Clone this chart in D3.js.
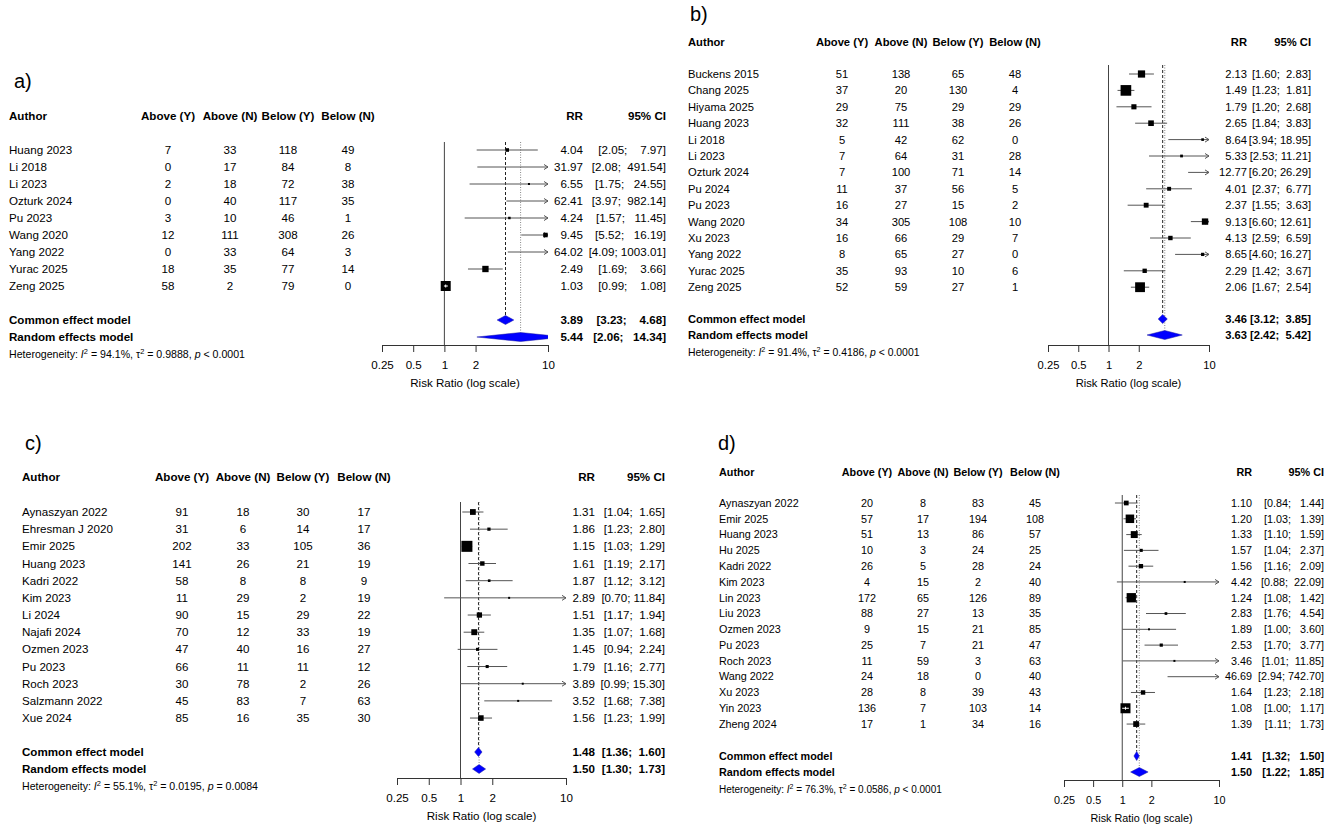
<!DOCTYPE html>
<html>
<head>
<meta charset="utf-8">
<script src="https://cdn.jsdelivr.net/npm/d3@7"></script>
<style>
body { margin: 0; background: #fff; }
svg text { font-family: "Liberation Sans", Arial, Helvetica, sans-serif; fill: #000; }
</style>
</head>
<body>
<div id="chart"></div>
<script>
const ticks = [0.25, 0.5, 1, 2, 10];
const colHeaders = ["Above (Y)", "Above (N)", "Below (Y)", "Below (N)"];

// a)
const aAuthors = ["Huang 2023", "Li 2018", "Li 2023", "Ozturk 2024", "Pu 2023", "Wang 2020", "Yang 2022", "Yurac 2025", "Zeng 2025"];
const aAboveY = [7, 0, 2, 0, 3, 12, 0, 18, 58];
const aAboveN = [33, 17, 18, 40, 10, 111, 33, 35, 2];
const aBelowY = [118, 84, 72, 117, 46, 308, 64, 77, 79];
const aBelowN = [49, 8, 38, 35, 1, 26, 3, 14, 0];
const aRR = [4.04, 31.97, 6.55, 62.41, 4.24, 9.45, 64.02, 2.49, 1.03];
const aLower = [2.05, 2.08, 1.75, 3.97, 1.57, 5.52, 4.09, 1.69, 0.99];
const aUpper = [7.97, 491.54, 24.55, 982.14, 11.45, 16.19, 1003.01, 3.66, 1.08];
const aCommon = [3.89, 3.23, 4.68];
const aRandom = [5.44, 2.06, 14.34];
const aHet = ["94.1%", "0.9888", "< 0.0001"];

// b)
const bAuthors = ["Buckens 2015", "Chang 2025", "Hiyama 2025", "Huang 2023", "Li 2018", "Li 2023", "Ozturk 2024", "Pu 2024", "Pu 2023", "Wang 2020", "Xu 2023", "Yang 2022", "Yurac 2025", "Zeng 2025"];
const bAboveY = [51, 37, 29, 32, 5, 7, 7, 11, 16, 34, 16, 8, 35, 52];
const bAboveN = [138, 20, 75, 111, 42, 64, 100, 37, 27, 305, 66, 65, 93, 59];
const bBelowY = [65, 130, 29, 38, 62, 31, 71, 56, 15, 108, 29, 27, 10, 27];
const bBelowN = [48, 4, 29, 26, 0, 28, 14, 5, 2, 10, 7, 0, 6, 1];
const bRR = [2.13, 1.49, 1.79, 2.65, 8.64, 5.33, 12.77, 4.01, 2.37, 9.13, 4.13, 8.65, 2.29, 2.06];
const bLower = [1.60, 1.23, 1.20, 1.84, 3.94, 2.53, 6.20, 2.37, 1.55, 6.60, 2.59, 4.60, 1.42, 1.67];
const bUpper = [2.83, 1.81, 2.68, 3.83, 18.95, 11.21, 26.29, 6.77, 3.63, 12.61, 6.59, 16.27, 3.67, 2.54];
const bCommon = [3.46, 3.12, 3.85];
const bRandom = [3.63, 2.42, 5.42];
const bHet = ["91.4%", "0.4186", "< 0.0001"];

// c)
const cAuthors = ["Aynaszyan 2022", "Ehresman J 2020", "Emir 2025", "Huang 2023", "Kadri 2022", "Kim 2023", "Li 2024", "Najafi 2024", "Ozmen 2023", "Pu 2023", "Roch 2023", "Salzmann 2022", "Xue 2024"];
const cAboveY = [91, 31, 202, 141, 58, 11, 90, 70, 47, 66, 30, 45, 85];
const cAboveN = [18, 6, 33, 26, 8, 29, 15, 12, 40, 11, 78, 83, 16];
const cBelowY = [30, 14, 105, 21, 8, 2, 29, 33, 16, 11, 2, 7, 35];
const cBelowN = [17, 17, 36, 19, 9, 19, 22, 19, 27, 12, 26, 63, 30];
const cRR = [1.31, 1.86, 1.15, 1.61, 1.87, 2.89, 1.51, 1.35, 1.45, 1.79, 3.89, 3.52, 1.56];
const cLower = [1.04, 1.23, 1.03, 1.19, 1.12, 0.70, 1.17, 1.07, 0.94, 1.16, 0.99, 1.68, 1.23];
const cUpper = [1.65, 2.80, 1.29, 2.17, 3.12, 11.84, 1.94, 1.68, 2.24, 2.77, 15.30, 7.38, 1.99];
const cCommon = [1.48, 1.36, 1.60];
const cRandom = [1.50, 1.30, 1.73];
const cHet = ["55.1%", "0.0195", "= 0.0084"];

// d)
const dAuthors = ["Aynaszyan 2022", "Emir 2025", "Huang 2023", "Hu 2025", "Kadri 2022", "Kim 2023", "Lin 2023", "Liu 2023", "Ozmen 2023", "Pu 2023", "Roch 2023", "Wang 2022", "Xu 2023", "Yin 2023", "Zheng 2024"];
const dAboveY = [20, 57, 51, 10, 26, 4, 172, 88, 9, 25, 11, 24, 28, 136, 17];
const dAboveN = [8, 17, 13, 3, 5, 15, 65, 27, 15, 7, 59, 18, 8, 7, 1];
const dBelowY = [83, 194, 86, 24, 28, 2, 126, 13, 21, 21, 3, 0, 39, 103, 34];
const dBelowN = [45, 108, 57, 25, 24, 40, 89, 35, 85, 47, 63, 40, 43, 14, 16];
const dRR = [1.10, 1.20, 1.33, 1.57, 1.56, 4.42, 1.24, 2.83, 1.89, 2.53, 3.46, 46.69, 1.64, 1.08, 1.39];
const dLower = [0.84, 1.03, 1.10, 1.04, 1.16, 0.88, 1.08, 1.76, 1.00, 1.70, 1.01, 2.94, 1.23, 1.00, 1.11];
const dUpper = [1.44, 1.39, 1.59, 2.37, 2.09, 22.09, 1.42, 4.54, 3.60, 3.77, 11.85, 742.70, 2.18, 1.17, 1.73];
const dCommon = [1.41, 1.32, 1.50];
const dRandom = [1.50, 1.22, 1.85];
const dHet = ["76.3%", "0.0586", "< 0.0001"];

const panels = [
    {tag: "a)", tagX: 14, tagY: 88, fs: 11.6, hfs: 10.6, authorX: 9, headerY: 116,
     cols: [168, 230, 288, 348], rrX: 583, ciX: 666,
     rowY0: 150, rowStep: 17, commonY: 320, randomY: 337, hetY: 354, lineTop: 142,
     axisY: 345, range: [382, 548], k: 1.25, maxBox: 10,
     authors: aAuthors, counts: [aAboveY, aAboveN, aBelowY, aBelowN],
     rr: aRR, lower: aLower, upper: aUpper, common: aCommon, random: aRandom, het: aHet},
    {tag: "b)", tagX: 690, tagY: 21, fs: 11.2, hfs: 10.4, authorX: 688, headerY: 42,
     cols: [842, 901, 958, 1015], rrX: 1247, ciX: 1311,
     rowY0: 74, rowStep: 16.4, commonY: 319, randomY: 335, hetY: 352, lineTop: 65,
     axisY: 345, range: [1048, 1209], k: 1.05, maxBox: 11,
     authors: bAuthors, counts: [bAboveY, bAboveN, bBelowY, bBelowN],
     rr: bRR, lower: bLower, upper: bUpper, common: bCommon, random: bRandom, het: bHet},
    {tag: "c)", tagX: 25, tagY: 450, fs: 11.6, hfs: 10.6, authorX: 22, headerY: 477,
     cols: [182, 243, 303, 364], rrX: 595, ciX: 665,
     rowY0: 512, rowStep: 17.17, commonY: 752, randomY: 769, hetY: 786, lineTop: 502,
     axisY: 778, range: [397, 566], k: 0.68, maxBox: 11,
     authors: cAuthors, counts: [cAboveY, cAboveN, cBelowY, cBelowN],
     rr: cRR, lower: cLower, upper: cUpper, common: cCommon, random: cRandom, het: cHet},
    {tag: "d)", tagX: 718, tagY: 450, fs: 10.8, hfs: 10, authorX: 719, headerY: 472,
     cols: [867, 923, 978, 1035], rrX: 1252, ciX: 1324,
     rowY0: 503, rowStep: 15.79, commonY: 756, randomY: 772, hetY: 789, lineTop: 495,
     axisY: 780, range: [1064, 1219], k: 0.65, maxBox: 10,
     authors: dAuthors, counts: [dAboveY, dAboveN, dBelowY, dBelowN],
     rr: dRR, lower: dLower, upper: dUpper, common: dCommon, random: dRandom, het: dHet}
];

const width = 1332, height = 832;
const svg = d3.select("#chart").append("svg")
    .attr("width", width)
    .attr("height", height);

// pad lower/upper bounds with spaces like the meta package does
function ciLabels(lo, up) {
    let los = lo.map(v => v.toFixed(2)), ups = up.map(v => v.toFixed(2));
    let lw = d3.max(los, s => s.length), uw = d3.max(ups, s => s.length);
    return los.map((l, i) => "[" + l.padStart(lw, "\u00a0") + ";\u00a0" + ups[i].padStart(uw, "\u00a0") + "]");
}

panels.forEach((p, pi) => {
    let g = svg.append("g");
    let x = d3.scaleLog().domain([ticks[0], ticks[ticks.length - 1]]).range(p.range);
    let n = p.authors.length;
    let rowY = i => p.rowY0 + i * p.rowStep;
    let base = (sel, fs) => sel.attr("dy", "0.35em").style("font-size", fs + "px");

    // panel tag
    g.append("text").attr("x", p.tagX).attr("y", p.tagY).style("font-size", "20px").text(p.tag);

    // header
    base(g.append("text").attr("x", p.authorX).attr("y", p.headerY), p.fs)
        .style("font-weight", "bold").text("Author");
    colHeaders.forEach((h, j) => {
        base(g.append("text").attr("x", p.cols[j]).attr("y", p.headerY), p.fs)
            .attr("text-anchor", "middle").style("font-weight", "bold").text(h);
    });
    base(g.append("text").attr("x", p.rrX).attr("y", p.headerY), p.fs)
        .attr("text-anchor", "end").style("font-weight", "bold").text("RR");
    base(g.append("text").attr("x", p.ciX).attr("y", p.headerY), p.fs)
        .attr("text-anchor", "end").style("font-weight", "bold").text("95% CI");

    // study rows text
    let cis = ciLabels(p.lower.concat([p.common[1], p.random[1]]), p.upper.concat([p.common[2], p.random[2]]));
    p.authors.forEach((a, i) => {
        base(g.append("text").attr("x", p.authorX).attr("y", rowY(i)), p.fs).text(a);
        p.counts.forEach((c, j) => {
            base(g.append("text").attr("x", p.cols[j]).attr("y", rowY(i)), p.fs)
                .attr("text-anchor", "middle").text(c[i]);
        });
        base(g.append("text").attr("x", p.rrX).attr("y", rowY(i)), p.fs)
            .attr("text-anchor", "end").text(p.rr[i].toFixed(2));
        base(g.append("text").attr("x", p.ciX).attr("y", rowY(i)), p.fs)
            .attr("text-anchor", "end").text(cis[i]);
    });

    // summary rows
    [["Common effect model", p.common, p.commonY, cis[n]], ["Random effects model", p.random, p.randomY, cis[n + 1]]]
        .forEach(([label, vals, y, ci]) => {
            base(g.append("text").attr("x", p.authorX).attr("y", y), p.fs).style("font-weight", "bold").text(label);
            base(g.append("text").attr("x", p.rrX).attr("y", y), p.fs)
                .attr("text-anchor", "end").style("font-weight", "bold").text(vals[0].toFixed(2));
            base(g.append("text").attr("x", p.ciX).attr("y", y), p.fs)
                .attr("text-anchor", "end").style("font-weight", "bold").text(ci);
        });

    // heterogeneity
    let het = base(g.append("text").attr("x", p.authorX).attr("y", p.hetY), p.hfs);
    het.append("tspan").text("Heterogeneity: ");
    het.append("tspan").style("font-style", "italic").text("I");
    het.append("tspan").attr("dy", -4).style("font-size", (p.hfs * 0.7) + "px").text("2");
    het.append("tspan").attr("dy", 4).text("\u00a0= " + p.het[0] + ", \u03c4");
    het.append("tspan").attr("dy", -4).style("font-size", (p.hfs * 0.7) + "px").text("2");
    het.append("tspan").attr("dy", 4).text("\u00a0= " + p.het[1] + ", ");
    het.append("tspan").style("font-style", "italic").text("p");
    het.append("tspan").text("\u00a0" + p.het[2]);

    // reference lines
    g.append("line")
        .attr("x1", x(1)).attr("x2", x(1))
        .attr("y1", p.lineTop).attr("y2", p.axisY)
        .attr("stroke", "#444").attr("stroke-width", 1);
    g.append("line")
        .attr("x1", x(p.common[0])).attr("x2", x(p.common[0]))
        .attr("y1", p.lineTop).attr("y2", p.commonY - 4.5)
        .attr("stroke", "#222").attr("stroke-dasharray", "3,2");
    g.append("line")
        .attr("x1", x(p.random[0])).attr("x2", x(p.random[0]))
        .attr("y1", p.lineTop).attr("y2", p.randomY - 4.5)
        .attr("stroke", "#888").attr("stroke-dasharray", "1,1.5");

    // study CIs and boxes
    let [xmin, xmax] = p.range;
    let wts = p.lower.map((l, i) => {
        let se = (Math.log(p.upper[i]) - Math.log(l)) / 3.92;
        return 1 / (se * se);
    });
    p.authors.forEach((a, i) => {
        let y = rowY(i);
        let x1 = Math.max(xmin, x(Math.max(p.lower[i], ticks[0])));
        let x2 = Math.min(xmax, x(Math.min(p.upper[i], ticks[ticks.length - 1])));
        g.append("line").attr("x1", x1).attr("x2", x2).attr("y1", y).attr("y2", y)
            .attr("stroke", "#555").attr("stroke-width", 1);
        if (p.upper[i] > ticks[ticks.length - 1]) {
            g.append("path")
                .attr("d", `M${xmax - 4},${y - 2.5}L${xmax},${y}L${xmax - 4},${y + 2.5}`)
                .attr("fill", "none").attr("stroke", "#555");
        }
        if (p.lower[i] < ticks[0]) {
            g.append("path")
                .attr("d", `M${xmin + 4},${y - 2.5}L${xmin},${y}L${xmin + 4},${y + 2.5}`)
                .attr("fill", "none").attr("stroke", "#555");
        }
        if (p.rr[i] >= ticks[0] && p.rr[i] <= ticks[ticks.length - 1]) {
            let s = Math.max(2, Math.min(p.maxBox, p.k * Math.sqrt(wts[i])));
            let cx = x(p.rr[i]);
            g.append("rect").attr("x", cx - s / 2).attr("y", y - s / 2)
                .attr("width", s).attr("height", s).attr("fill", "#000");
            // CI fully inside the box: draw it in white
            if (x1 >= cx - s / 2 + 1 && x2 <= cx + s / 2 - 1) {
                g.append("line").attr("x1", x1).attr("x2", x2).attr("y1", y).attr("y2", y)
                    .attr("stroke", "#fff").attr("stroke-width", 1);
                g.append("line").attr("x1", cx).attr("x2", cx).attr("y1", y - 1.5).attr("y2", y + 1.5)
                    .attr("stroke", "#fff").attr("stroke-width", 1);
            }
        }
    });

    // diamonds
    let clipId = "clip" + pi;
    svg.append("clipPath").attr("id", clipId).append("rect")
        .attr("x", xmin).attr("y", 0).attr("width", xmax - xmin).attr("height", height);
    [[p.common, p.commonY], [p.random, p.randomY]].forEach(([v, y]) => {
        let h = 4.5;
        g.append("path")
            .attr("clip-path", `url(#${clipId})`)
            .attr("d", `M${x(v[1])},${y}L${x(v[0])},${y - h}L${x(v[2])},${y}L${x(v[0])},${y + h}Z`)
            .attr("fill", "#0000ff").attr("stroke", "#1a1aa0").attr("stroke-width", 0.5);
    });

    // axis
    let axis = g.append("g")
        .attr("transform", "translate(0," + p.axisY + ")")
        .call(d3.axisBottom(x).tickValues(ticks).tickFormat(d => String(d))
            .tickSize(7).tickSizeOuter(0).tickPadding(9));
    axis.select(".domain").attr("stroke", "#333");
    axis.selectAll(".tick line").attr("stroke", "#333");
    axis.selectAll("text").style("font-size", p.fs + "px").attr("fill", "#000");

    g.append("text")
        .attr("x", (xmin + xmax) / 2).attr("y", p.axisY + 38)
        .attr("dy", "0.35em").attr("text-anchor", "middle")
        .style("font-size", p.fs + "px")
        .text("Risk Ratio (log scale)");
});
</script>
</body>
</html>
